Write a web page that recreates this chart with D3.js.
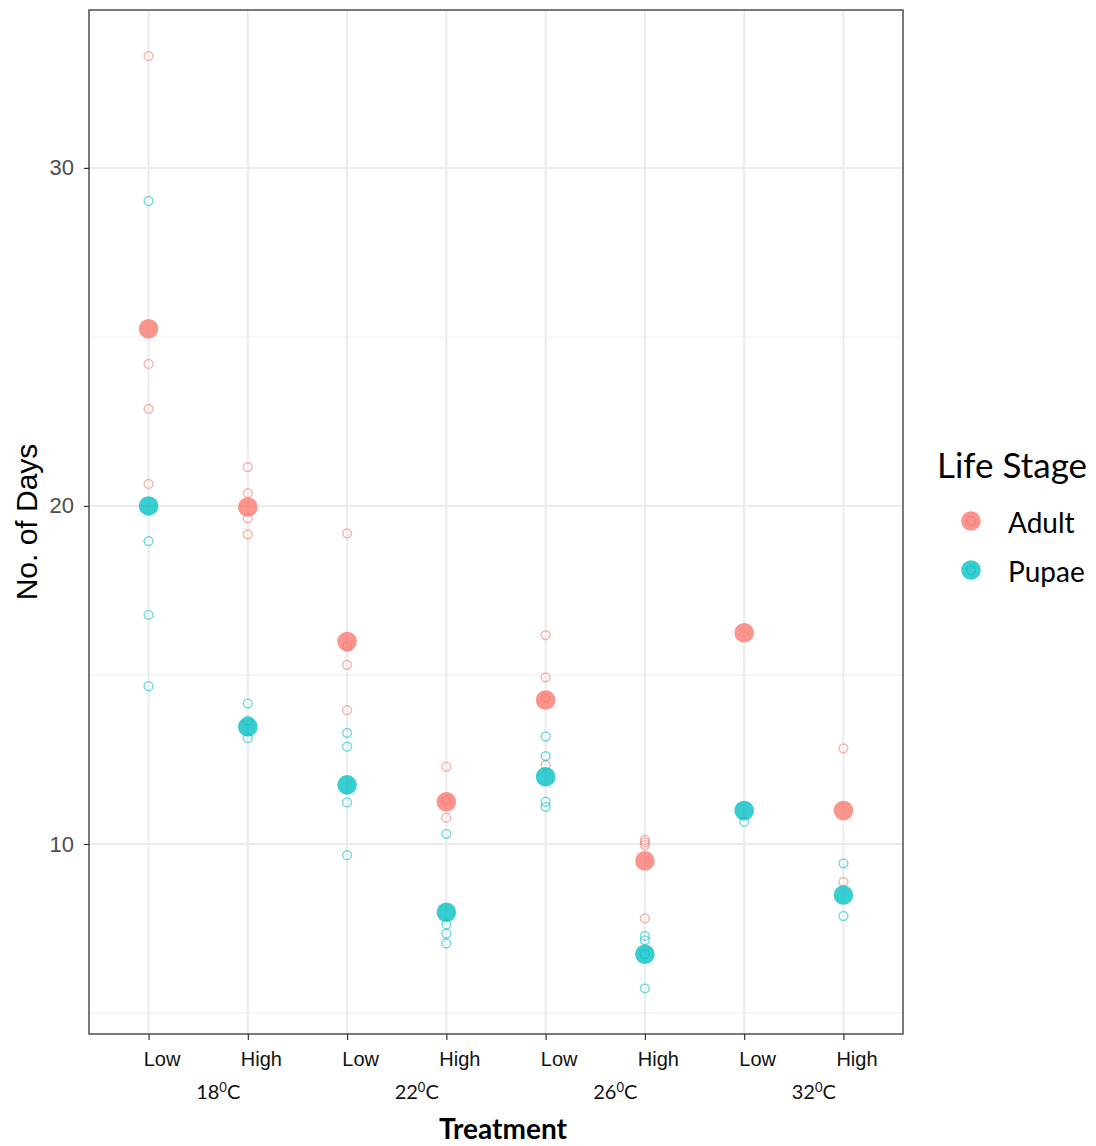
<!DOCTYPE html>
<html>
<head>
<meta charset="utf-8">
<script src="https://cdn.jsdelivr.net/npm/d3@7"></script>
<style>
  html, body { margin: 0; padding: 0; background: #fff; }
  svg { display: block; }
</style>
</head>
<body>
<script>
// Development time per treatment: temperature x density level
const temperatures = ["18", "22", "26", "32"];
const levels = ["Low", "High"];
const categories = temperatures.flatMap(t => levels.map(l => t + " " + l));

// Individual replicate observations (days), one list per treatment
const adultObs = [
  [33.31, 24.2, 22.87, 20.65],
  [21.15, 20.38, 19.64, 19.16],
  [19.19, 15.84, 15.30, 13.96],
  [12.29, 11.3, 10.78],
  [16.18, 14.93, 14.32, 12.34],
  [10.12, 10.05, 9.97, 7.8],
  [],
  [12.83, 8.88]
];
const pupaeObs = [
  [29.02, 18.96, 16.78, 14.67],
  [14.16, 13.65, 13.13],
  [13.29, 12.88, 11.23, 9.67],
  [10.3, 7.62, 7.35, 7.06],
  [13.18, 12.6, 11.25, 11.10],
  [7.28, 7.15, 6.74, 5.73],
  [10.66],
  [9.43, 7.87]
];
// Treatment means (days)
const adultMean = [25.24, 19.97, 15.99, 11.25, 14.26, 9.5, 16.25, 10.99];
const pupaeMean = [20.0, 13.47, 11.75, 7.98, 11.99, 6.74, 10.99, 8.49];

const stages = ["Adult", "Pupae"];
const stageColor = { Adult: "#F8766D", Pupae: "#00BFC4" };
const yTicks = [10, 20, 30];
const yMinor = [5, 15, 25];

const W = 1096, H = 1146;
const panel = { left: 89, top: 10, right: 903, bottom: 1034 };

const svg = d3.select("body").append("svg")
  .attr("width", W).attr("height", H)
  .style("font-family", "Lato, 'Open Sans', sans-serif");

svg.append("rect").attr("width", W).attr("height", H).attr("fill", "#fff");

const x = d3.scalePoint().domain(categories)
  .range([panel.left, panel.right]).padding(0.6);
const y = d3.scaleLinear().domain([4.38, 34.67])
  .range([panel.bottom, panel.top]);

// grid
const grid = svg.append("g");
grid.selectAll(".ymin").data(yMinor).join("line")
  .attr("x1", panel.left).attr("x2", panel.right)
  .attr("y1", d => y(d)).attr("y2", d => y(d))
  .attr("stroke", "#efefef").attr("stroke-width", 1);
grid.selectAll(".ymaj").data(yTicks).join("line")
  .attr("x1", panel.left).attr("x2", panel.right)
  .attr("y1", d => y(d)).attr("y2", d => y(d))
  .attr("stroke", "#ebebeb").attr("stroke-width", 2);
grid.selectAll(".xmaj").data(categories).join("line")
  .attr("x1", d => x(d)).attr("x2", d => x(d))
  .attr("y1", panel.top).attr("y2", panel.bottom)
  .attr("stroke", "#ebebeb").attr("stroke-width", 2);

// replicate observations: small open circles
const pts = svg.append("g");
function drawObs(obs, stage) {
  const rows = obs.flatMap((vals, i) => vals.map(v => ({ c: categories[i], v })));
  pts.append("g").selectAll("circle").data(rows).join("circle")
    .attr("cx", d => x(d.c)).attr("cy", d => y(d.v)).attr("r", 4.4)
    .attr("fill", "none").attr("stroke", stageColor[stage])
    .attr("stroke-opacity", 0.55).attr("stroke-width", 1.5);
}
drawObs(adultObs, "Adult");
drawObs(pupaeObs, "Pupae");

// treatment means: large filled circles
function drawMeans(means, stage) {
  pts.append("g").selectAll("circle").data(means).join("circle")
    .attr("cx", (d, i) => x(categories[i])).attr("cy", d => y(d)).attr("r", 9.8)
    .attr("fill", stageColor[stage]).attr("fill-opacity", 0.78);
}
drawMeans(adultMean, "Adult");
drawMeans(pupaeMean, "Pupae");

// panel border
svg.append("rect")
  .attr("x", panel.left).attr("y", panel.top)
  .attr("width", panel.right - panel.left).attr("height", panel.bottom - panel.top)
  .attr("fill", "none").attr("stroke", "#333").attr("stroke-width", 1.3);

// y axis
const yAxis = svg.append("g").attr("transform", `translate(${panel.left},0)`)
  .call(d3.axisLeft(y).tickValues(yTicks).tickSize(5).tickPadding(10).tickFormat(d3.format("d")));
yAxis.select(".domain").remove();
yAxis.selectAll(".tick line").attr("stroke", "#333").attr("stroke-width", 1.2);
yAxis.selectAll(".tick text")
  .attr("fill", "#4d4d4d").style("font-family", "'Liberation Sans', Arial, sans-serif")
  .style("font-size", "22px");

svg.append("text")
  .attr("transform", `translate(37,${(panel.top + panel.bottom) / 2 + 0}) rotate(-90)`)
  .attr("text-anchor", "middle")
  .style("font-family", "'Liberation Sans', Arial, sans-serif")
  .style("font-size", "30px").attr("fill", "#000")
  .text("No. of Days");

// x axis: density level per tick
const xAxis = svg.append("g").attr("transform", `translate(0,${panel.bottom})`)
  .call(d3.axisBottom(x).tickSize(6).tickFormat(d => d.split(" ")[1]));
xAxis.select(".domain").remove();
xAxis.selectAll(".tick line").attr("stroke", "#333").attr("stroke-width", 1.2);
xAxis.selectAll(".tick text")
  .attr("dx", 13).attr("y", 18).attr("dy", "0.71em")
  .attr("fill", "#111").style("font-size", "20px");

// temperature group labels
const groupLbl = svg.append("g").selectAll("text").data(temperatures).join("text")
  .attr("x", t => (x(t + " Low") + x(t + " High")) / 2 + 20)
  .attr("y", 1099)
  .attr("text-anchor", "middle")
  .style("font-size", "20px").attr("fill", "#111");
groupLbl.append("tspan").text(t => t);
groupLbl.append("tspan").attr("dy", -7).style("font-size", "13px").text("0");
groupLbl.append("tspan").attr("dy", 7).text("C");

svg.append("text")
  .attr("x", 503).attr("y", 1139).attr("text-anchor", "middle")
  .style("font-size", "28px").style("font-weight", "bold").attr("fill", "#000")
  .text("Treatment");

// legend
const leg = svg.append("g");
leg.append("text").attr("x", 937).attr("y", 478)
  .style("font-size", "35px").attr("fill", "#000").text("Life Stage");
const items = leg.selectAll("g.item").data(stages).join("g")
  .attr("class", "item")
  .attr("transform", (d, i) => `translate(971,${521 + i * 49})`);
items.append("circle").attr("r", 9.8)
  .attr("fill", d => stageColor[d]).attr("fill-opacity", 0.78);
items.append("circle").attr("r", 4.4).attr("fill", "none")
  .attr("stroke", d => stageColor[d]).attr("stroke-opacity", 0.55).attr("stroke-width", 1.5);
items.append("text").attr("x", 37).attr("y", 12)
  .style("font-size", "28px").attr("fill", "#000").text(d => d);
</script>
</body>
</html>
